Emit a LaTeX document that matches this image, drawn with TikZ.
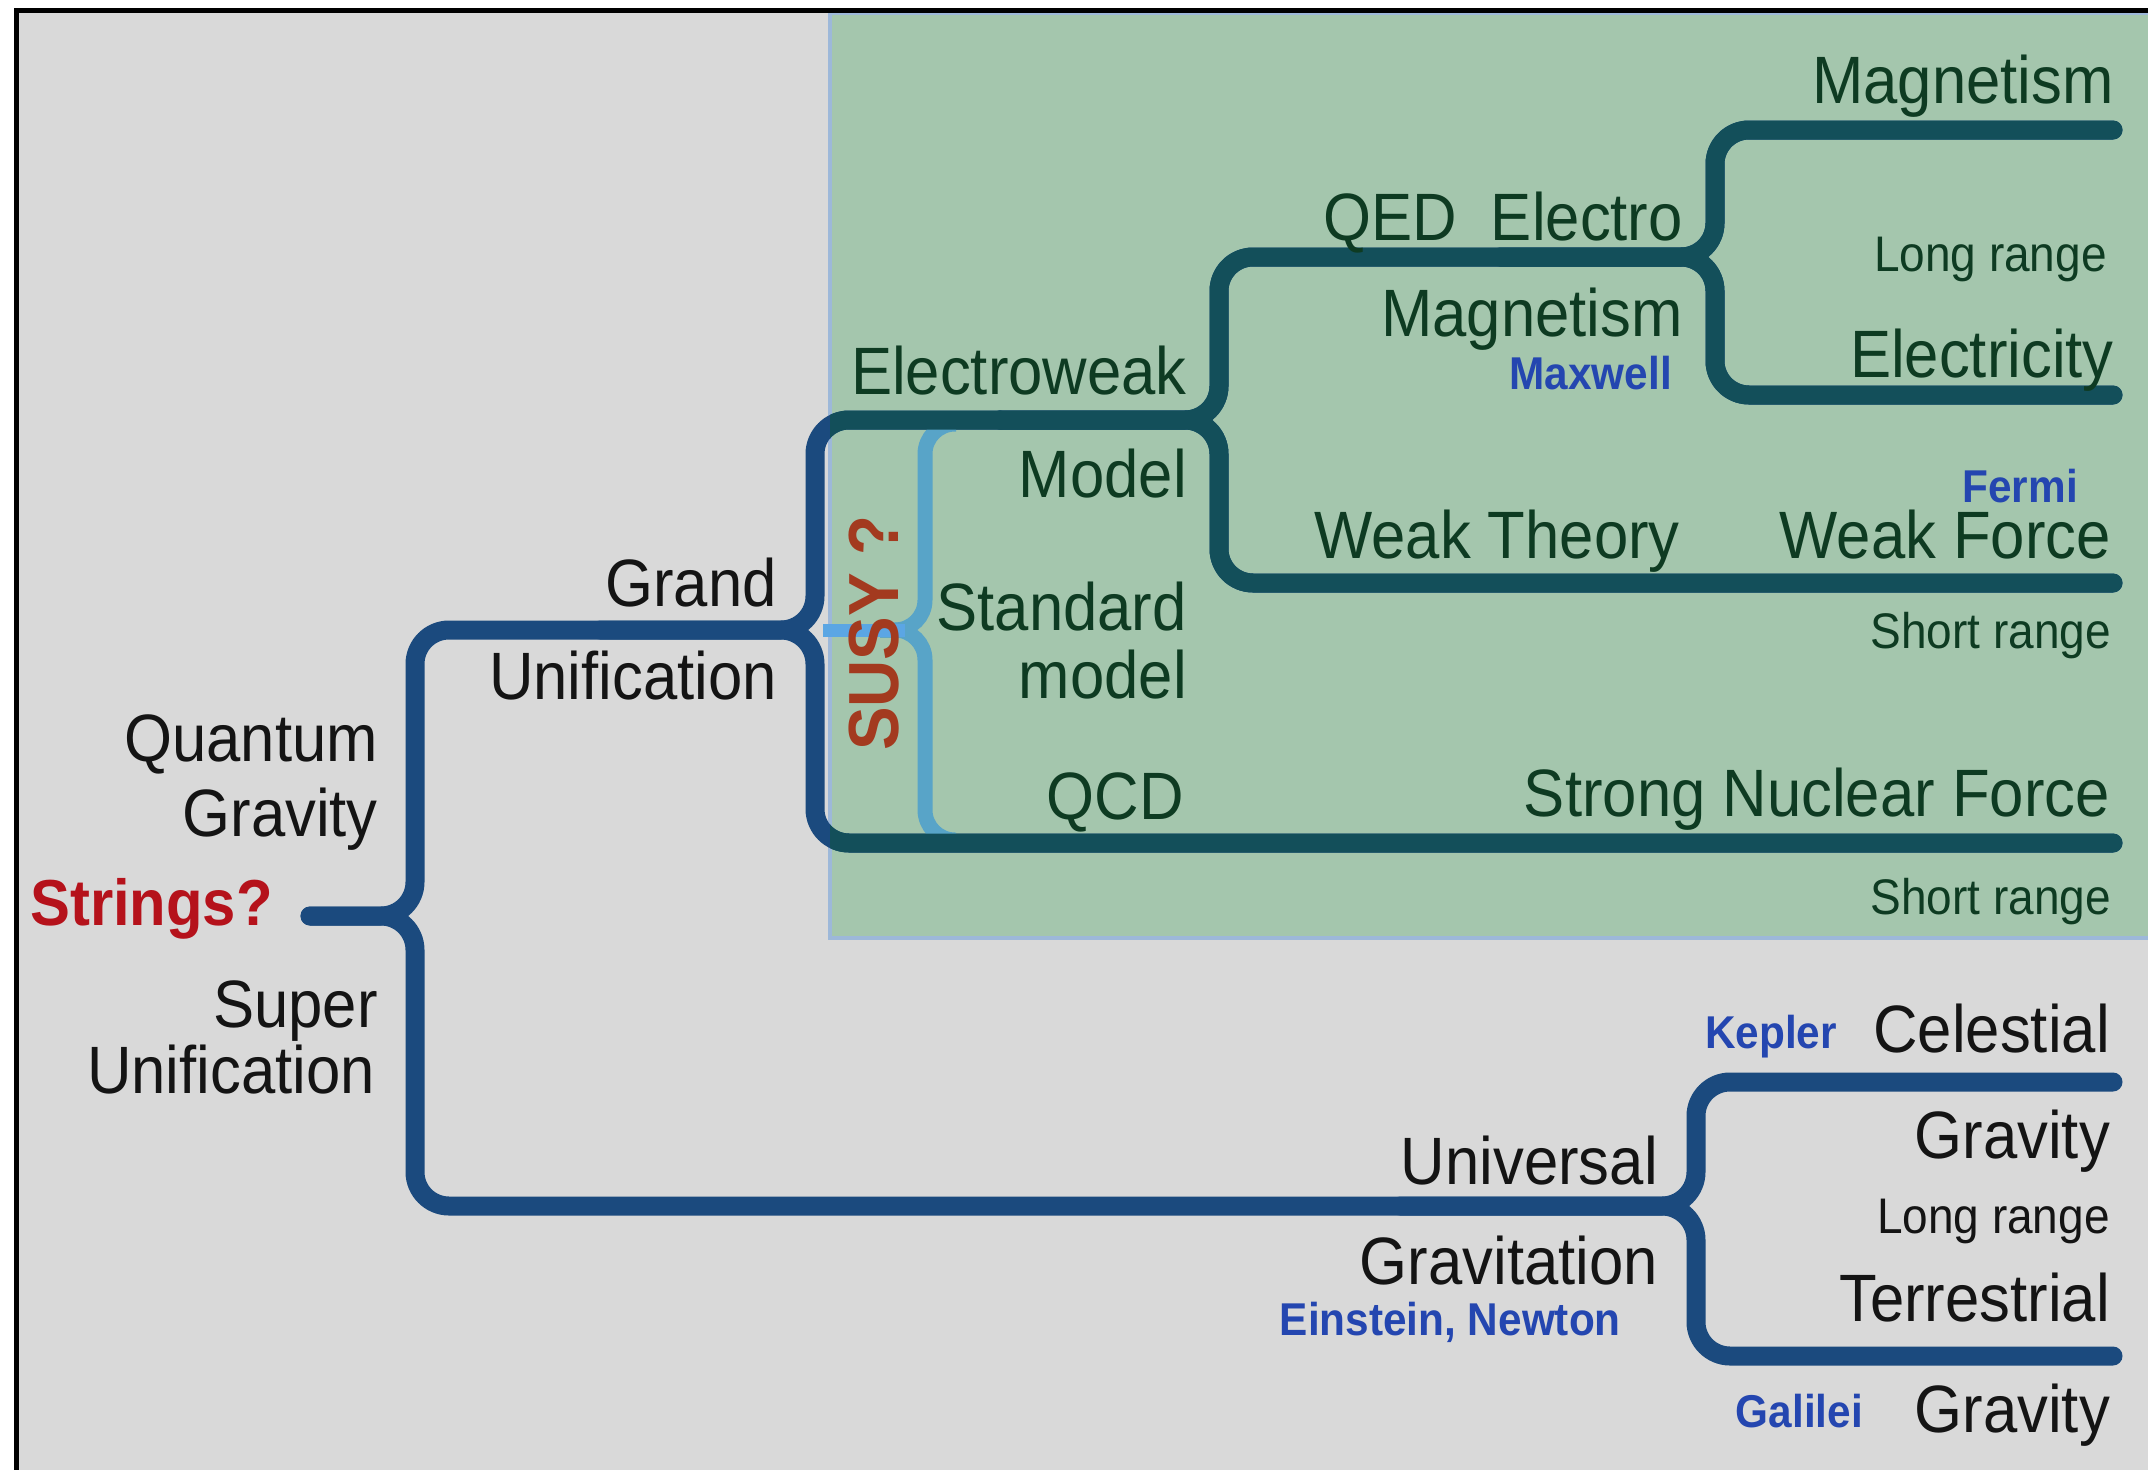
\documentclass[tikz,border=0pt]{standalone}
\usepackage{fontspec}
\setmainfont{Liberation Sans}[FakeStretch=0.92]
\definecolor{bgGray}{HTML}{D9D9D9}
\definecolor{boxGreen}{HTML}{A4C6AD}
\definecolor{boxEdge}{HTML}{9DB8D9}
\definecolor{lnNavy}{HTML}{1B4A7E}
\definecolor{lnTeal}{HTML}{134F5A}
\definecolor{lnLight}{HTML}{58A4C8}
\definecolor{lnStub}{HTML}{5BA6E4}
\definecolor{txtGreen}{HTML}{0E3B22}
\definecolor{txtDark}{HTML}{141414}
\definecolor{txtRed}{HTML}{B5121B}
\definecolor{txtSusy}{HTML}{A33A1F}
\definecolor{txtBlue}{HTML}{2446B0}
\newcommand\drawTreeLines[1]{%
  \draw[tree,#1] (strA) -- (mJ) -- (mT) -- (guJ) -- (ewT) -- (ewIn);
  \draw[tree,#1] (guIn) -- (guJ) -- (sB) -- (strongE);
  \draw[tree,#1] (ewIn) -- (ewJ) -- (qedT) -- (qedJ) -- (magT) -- (magE);
  \draw[tree,#1] (ewIn) -- (ewJ) -- (weakB) -- (weakE);
  \draw[tree,#1] (qedIn) -- (qedJ) -- (elecB) -- (elecE);
  \draw[tree,#1] (strA) -- (mJ) -- (mB) -- (ugJ) -- (celT) -- (celE);
  \draw[tree,#1] (ugIn) -- (ugJ) -- (terB) -- (terE);
}
\begin{document}
\begin{tikzpicture}[x=1pt,y=-1pt,
  tree/.style={line width=19pt, line cap=round, rounded corners=34pt},
  lbline/.style={line width=15pt, lnLight, rounded corners=30pt},
  big/.style={font=\fontsize{67}{70}\selectfont, inner sep=0pt, anchor=base east},
  small/.style={font=\fontsize{50}{52}\selectfont, inner sep=0pt, anchor=base east},
  who/.style={font=\fontsize{46}{48}\selectfont\bfseries, text=txtBlue, inner sep=0pt, anchor=base east},
  ingreen/.style={text=txtGreen},
  outgreen/.style={text=txtDark}]
\useasboundingbox (0,0) rectangle (2148,1470);
\fill[white] (0,0) rectangle (2148,1470);
\fill[bgGray] (16,10) rectangle (2148,1470);
\fill[boxGreen] (830,13) rectangle (2148,938);
\draw[boxEdge, line width=4pt] (2150,13) -- (830,13) -- (830,938) -- (2150,938);
\draw[black, line width=5pt] (16,1472) -- (16,10) -- (2150,10);

% tree coordinates
\coordinate (strA) at (310,916);
\coordinate (mJ) at (415,916);
\coordinate (mT) at (415,630);
\coordinate (mB) at (415,1206);
\coordinate (guIn) at (600,630);
\coordinate (guJ) at (815,630);
\coordinate (ewT) at (815,420);
\coordinate (sB) at (815,843);
\coordinate (strongE) at (2113,843);
\coordinate (ewIn) at (1000,420);
\coordinate (ewJ) at (1219,420);
\coordinate (qedT) at (1219,257);
\coordinate (weakB) at (1219,583);
\coordinate (weakE) at (2113,583);
\coordinate (qedIn) at (1500,257);
\coordinate (qedJ) at (1715,257);
\coordinate (magT) at (1715,130);
\coordinate (magE) at (2113,130);
\coordinate (elecB) at (1715,395);
\coordinate (elecE) at (2113,395);
\coordinate (ugIn) at (1400,1206);
\coordinate (ugJ) at (1696,1206);
\coordinate (celT) at (1696,1082);
\coordinate (celE) at (2113,1082);
\coordinate (terB) at (1696,1356);
\coordinate (terE) at (2113,1356);
% light blue SUSY brace
\coordinate (lbTe) at (956,424);
\coordinate (lbT) at (925,424);
\coordinate (lbJ) at (925,630);
\coordinate (lbIn) at (880,630);
\coordinate (lbB) at (925,840);
\coordinate (lbBe) at (956,840);
\coordinate (stubA) at (823,630);
\coordinate (stubB) at (905,630);

\drawTreeLines{lnNavy}
\begin{scope}
  \clip (830,13) rectangle (2148,938);
  \draw[lbline] (lbTe) -- (lbT) -- (lbJ) -- (lbIn);
  \draw[lbline] (lbBe) -- (lbB) -- (lbJ) -- (lbIn);
  \drawTreeLines{lnTeal}
\end{scope}
\draw[line width=13pt, lnStub] (stubA) -- (stubB);

% labels in the green box
\node[big,ingreen] (tMag1) at (2114,103) {Magnetism};
\node[big,ingreen] (tQed) at (1683,240) {QED\ \ Electro};
\node[small,ingreen] (tLong1) at (2107,271) {Long range};
\node[big,ingreen] (tMag2) at (1683,336) {Magnetism};
\node[who] (tMaxwell) at (1672,389) {Maxwell};
\node[big,ingreen] (tElec) at (2114,377) {Electricity};
\node[big,ingreen] (tEW) at (1187,394) {Electroweak};
\node[big,ingreen] (tModel) at (1187,497) {Model};
\node[who] (tFermi) at (2078,502) {Fermi};
\node[big,ingreen] (tWeakT) at (1680,558) {Weak Theory};
\node[big,ingreen] (tWeakF) at (2111,558) {Weak Force};
\node[big,ingreen] (tStd) at (1187,630) {Standard};
\node[small,ingreen] (tShort1) at (2111,648) {Short range};
\node[big,ingreen] (tModel2) at (1187,698) {model};
\node[font=\fontsize{71}{74}\selectfont\bfseries, text=txtSusy, inner sep=0pt, rotate=90] (tSusy) at (874,633) {SUSY ?};
\node[big,ingreen] (tQCD) at (1184,819) {QCD};
\node[big,ingreen] (tStrong) at (2110,816) {Strong Nuclear Force};
\node[small,ingreen] (tShort2) at (2111,914) {Short range};

% labels outside
\node[big,outgreen] (tGrand) at (777,606) {Grand};
\node[big,outgreen] (tUnif1) at (777,699) {Unification};
\node[big,outgreen] (tQuant) at (378,761) {Quantum};
\node[big,outgreen] (tGrav1) at (378,836) {Gravity};
\node[font=\fontsize{65}{68}\selectfont\bfseries, text=txtRed, inner sep=0pt, anchor=base west] (tStrings) at (30,925) {Strings?};
\node[big,outgreen] (tSuper) at (378,1027) {Super};
\node[big,outgreen] (tUnif2) at (375,1093) {Unification};
\node[who] (tKepler) at (1837,1048) {Kepler};
\node[big,outgreen] (tCel) at (2110,1052) {Celestial};
\node[big,outgreen] (tGrav2) at (2110,1158) {Gravity};
\node[big,outgreen] (tUniv) at (1658,1184) {Universal};
\node[small,outgreen] (tLong2) at (2110,1233) {Long range};
\node[big,outgreen] (tGravit) at (1658,1284) {Gravitation};
\node[who] (tEinst) at (1621,1335) {Einstein, Newton};
\node[big,outgreen] (tTerr) at (2110,1321) {Terrestrial};
\node[who] (tGal) at (1863,1427) {Galilei};
\node[big,outgreen] (tGrav3) at (2110,1432) {Gravity};
\end{tikzpicture}
\end{document}
